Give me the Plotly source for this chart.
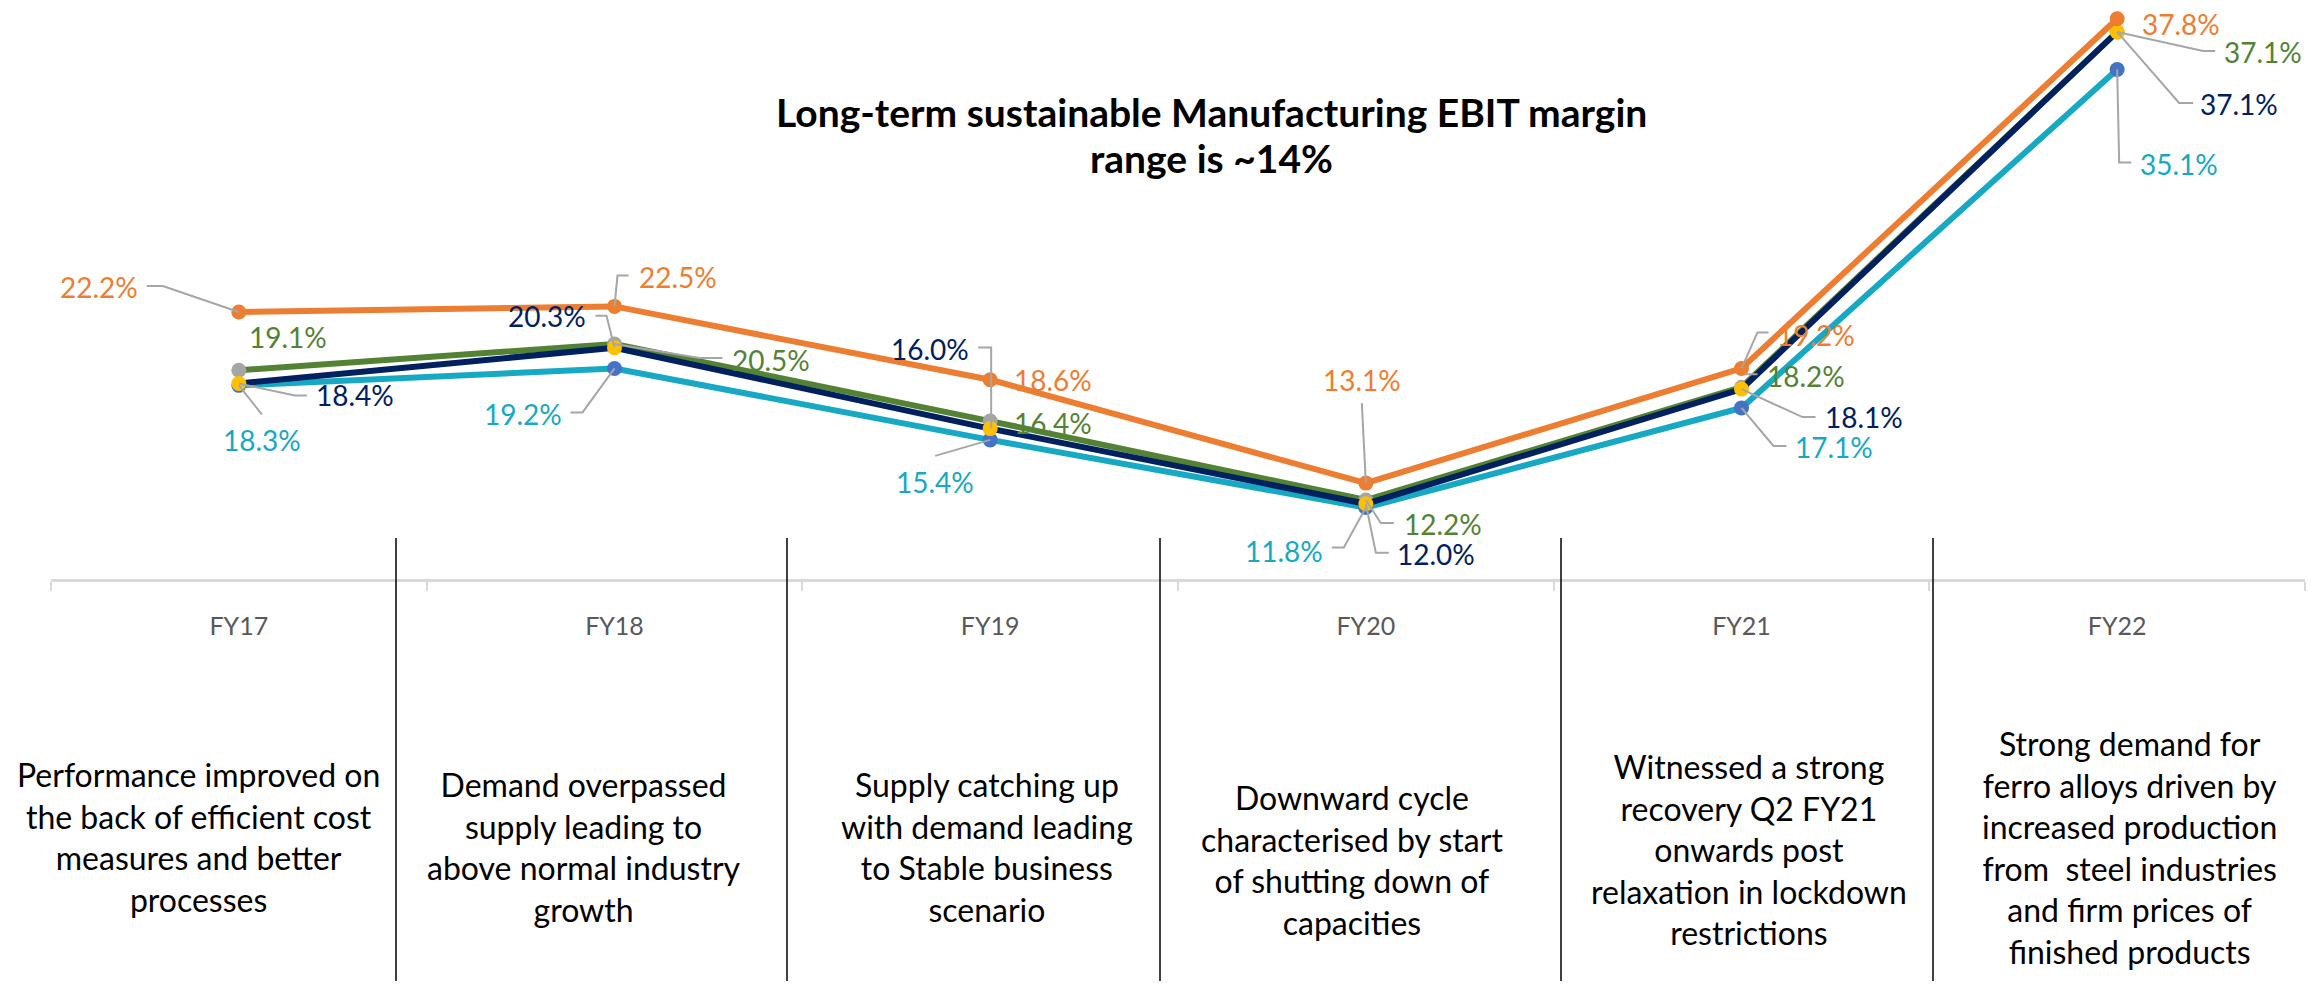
import plotly.graph_objects as go

# ---------------- data ----------------
categories = ["FY17", "FY18", "FY19", "FY20", "FY21", "FY22"]
series_names = ["Series 1", "Series 2", "Series 3", "Series 4"]
orange_vals = [22.2, 22.5, 18.6, 13.1, 19.2, 37.8]
green_vals = [19.1, 20.5, 16.4, 12.2, 18.2, 37.1]
navy_vals = [18.4, 20.3, 16.0, 12.0, 18.1, 37.1]
teal_vals = [18.3, 19.2, 15.4, 11.8, 17.1, 35.1]

title_lines = ["Long-term sustainable Manufacturing EBIT margin", "range is ~14%"]
descriptions = [
    "Performance improved on<br>the back of efficient cost<br>measures and better<br>processes",
    "Demand overpassed<br>supply leading to<br>above normal industry<br>growth",
    "Supply catching up<br>with demand leading<br>to Stable business<br>scenario",
    "Downward cycle<br>characterised by start<br>of shutting down of<br>capacities",
    "Witnessed a strong<br>recovery Q2 FY21<br>onwards post<br>relaxation in lockdown<br>restrictions",
    "Strong demand for<br>ferro alloys driven by<br>increased production<br>from  steel industries<br>and firm prices of<br>finished products",
]

# ---------------- styles / layout helpers ----------------
OFF = 8  # default page (body) margin
W, H = 2323 - 2 * OFF, 989 - 2 * OFF
X_LEFT, X_RIGHT = 51, 2305     # plot area in screen px
Y_TOP, Y_BOT = 15, 579
YMIN, YMAX = 8, 38

ORANGE = "#ED7D31"
GREEN = "#548235"
NAVY = "#002060"
TEAL = "#17A9C3"
LEADER = "#A6A6A6"
FONT = "Lato"


def px_x(X):
    return (X - X_LEFT) / (X_RIGHT - X_LEFT)


def px_y(Y):
    return (Y_BOT - Y) / (Y_BOT - Y_TOP)


series = [
    dict(name=series_names[3], vals=teal_vals, color=TEAL, mcolor="#4472C4",
         offs=[(23, -55), (-92, -46), (-55, -42), (-82, -43), (92, -39), (62, -94)],
         leaders=[[(0, 0), (23, -29)], [(-44, -44), (-32, -44), (0, 0)], [(-55, -16), (0, 0)],
                  [(-34, -40), (-22, -40), (0, 0)], [(0, 0), (32, -38), (45, -38)],
                  [(0, 0), (2, -93), (14, -93)]]),
    dict(name=series_names[1], vals=green_vals, color=GREEN, mcolor="#A5A5A5",
         offs=[(49, 33), (156, -16), (63, -2), (77, -24), (64, 11), (146, -20)],
         leaders=[None, [(0, 0), (85, -14), (108, -14)], None,
                  [(0, 0), (15, -23), (28, -23)], [(3, 13), (16, 13)],
                  [(0, 0), (86, -19), (98, -19)]]),
    dict(name=series_names[2], vals=navy_vals, color=NAVY, mcolor="#FFC000",
         offs=[(116, -12), (-68, 32), (-60, 80), (70, -50), (122, -28), (122, -72)],
         leaders=[[(0, 0), (56, -12), (68, -12)], [(-19, 32), (-8, 32), (0, 0)],
                  [(-12, 81), (1, 81), (1, 0)], [(0, 0), (10, -49), (23, -49)],
                  [(0, 0), (61, -28), (74, -28)], [(0, 0), (62, -71), (76, -71)]]),
    dict(name=series_names[0], vals=orange_vals, color=ORANGE, mcolor=ORANGE,
         offs=[(-140, 25), (63, 29), (63, 0), (-4, 103), (74, 33), (64, -5)],
         leaders=[[(-92, 26), (-76, 26), (0, 0)], [(0, 0), (3, 31), (14, 31)], None,
                  [(-4, 80), (0, 0)], [(0, 0), (16, 36), (27, 36)], None]),
]

fig = go.Figure()
annotations = []
shapes = []

for s in series:
    fig.add_trace(go.Scatter(
        x=categories, y=s["vals"], name=s["name"], mode="lines+markers",
        line=dict(color=s["color"], width=6),
        marker=dict(color=s["mcolor"], size=15, line=dict(width=0)),
        cliponaxis=False, hoverinfo="skip", showlegend=False,
    ))
    for i, (cat, v) in enumerate(zip(categories, s["vals"])):
        dx, dy = s["offs"][i]
        annotations.append(dict(
            x=cat, y=v, xref="x", yref="y", text=f"{v:.1f}%", showarrow=False,
            xshift=dx, yshift=dy, xanchor="center", yanchor="middle",
            font=dict(family=FONT, size=28, color=s["color"]),
        ))
        pts = s["leaders"][i]
        if pts:
            path = "M " + " L ".join(f"{px},{py}" for px, py in pts)
            shapes.append(dict(
                type="path", xref="x", yref="y", xsizemode="pixel", ysizemode="pixel",
                xanchor=cat, yanchor=v, path=path,
                line=dict(color=LEADER, width=2), layer="above",
            ))

# title
for line, Y in zip(title_lines, [112, 158]):
    annotations.append(dict(
        x=px_x(1211), y=px_y(Y), xref="paper", yref="paper", text=f"<b>{line}</b>",
        showarrow=False, xanchor="center", yanchor="middle",
        font=dict(family=FONT, size=39, color="#000000"),
    ))

# description texts under each year
desc_x = [198, 584, 987, 1352, 1749, 2129]
desc_y = [837, 847, 847, 860, 849, 848]
for txt, X, Y in zip(descriptions, desc_x, desc_y):
    annotations.append(dict(
        x=px_x(X), y=px_y(Y), xref="paper", yref="paper", text=txt,
        showarrow=False, xanchor="center", yanchor="middle", align="center",
        font=dict(family=FONT, size=32, color="#000000"),
    ))

# vertical separators
for X in [396, 787, 1160, 1561, 1933]:
    shapes.append(dict(
        type="line", xref="paper", yref="paper",
        x0=px_x(X), x1=px_x(X), y0=px_y(538), y1=px_y(1000),
        line=dict(color="#000000", width=1.5), layer="above",
    ))

fig.update_layout(
    width=W, height=H,
    margin=dict(l=X_LEFT - OFF, r=W - (X_RIGHT - OFF), t=Y_TOP - OFF, b=H - (Y_BOT - OFF), pad=0),
    paper_bgcolor="white", plot_bgcolor="white",
    xaxis=dict(
        type="category", range=[-0.5, 5.5], tickson="boundaries",
        showline=True, linecolor="#D9D9D9", linewidth=2.5,
        ticks="outside", ticklen=9, tickwidth=2, tickcolor="#D9D9D9",
        showgrid=False, zeroline=False, ticklabelstandoff=23,
        tickfont=dict(family=FONT, size=25, color="#595959"),
    ),
    yaxis=dict(range=[YMIN, YMAX], visible=False, showgrid=False, zeroline=False),
    annotations=annotations, shapes=shapes, showlegend=False,
)

fig.write_html("out.html")
